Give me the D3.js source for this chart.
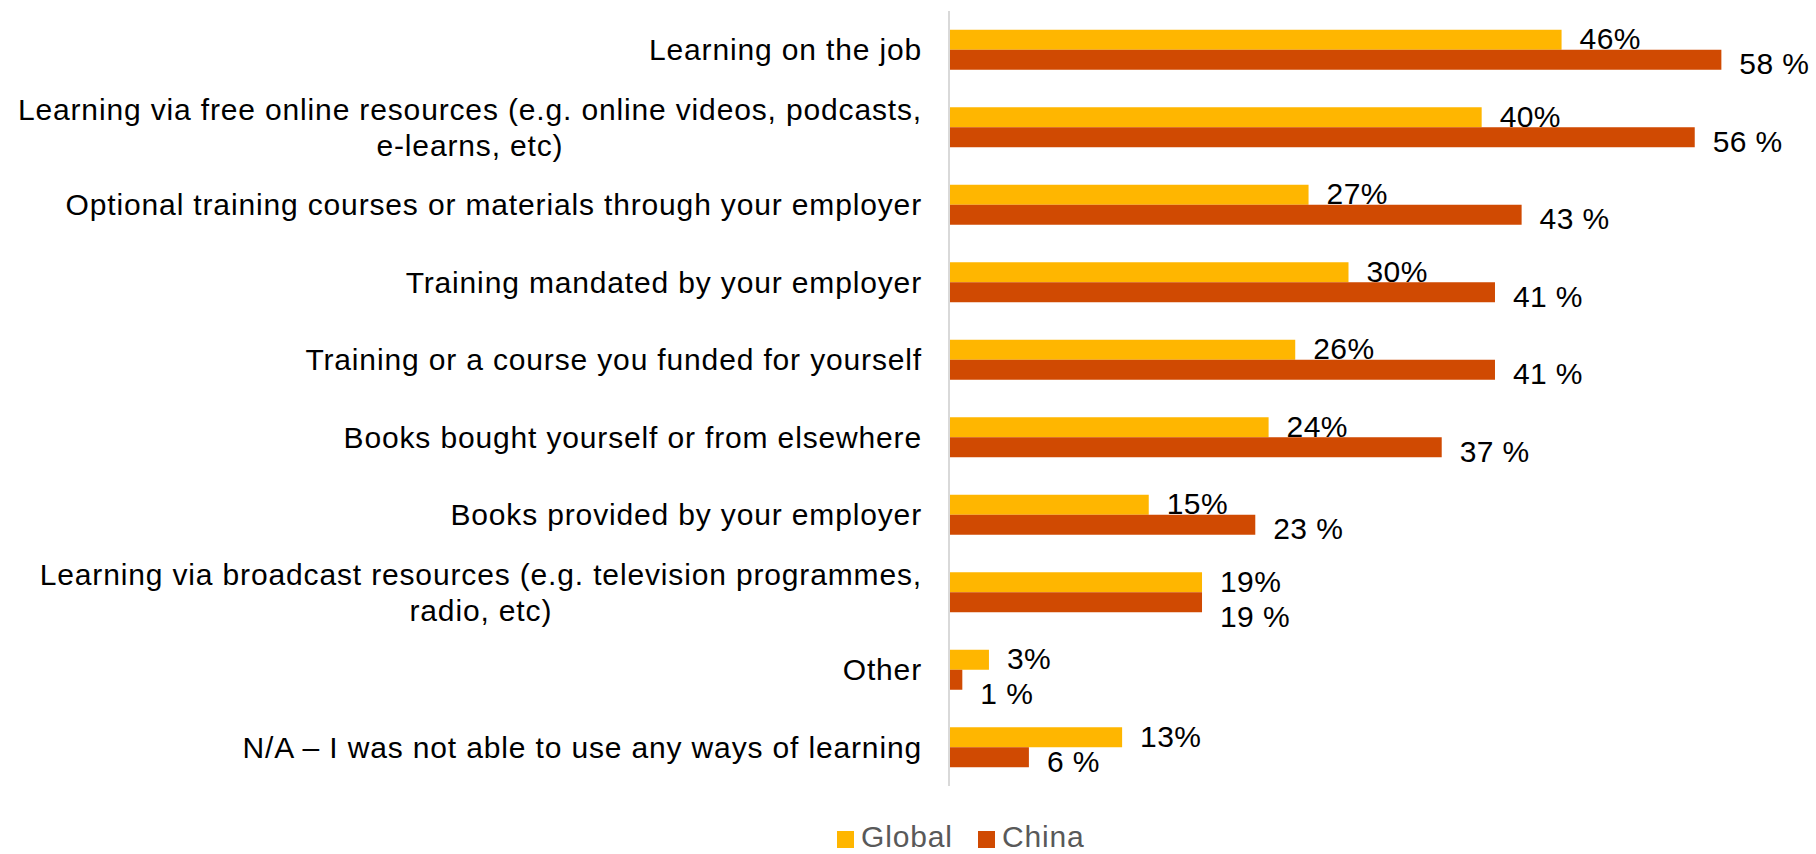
<!DOCTYPE html>
<html>
<head>
<meta charset="utf-8">
<script src="https://cdn.jsdelivr.net/npm/d3@7"></script>
<style>
  html, body { margin: 0; padding: 0; background: #ffffff; }
  svg { display: block; }
  text { font-family: "Liberation Sans", Arial, sans-serif; }
</style>
</head>
<body>
<svg id="chart" width="1816" height="854"></svg>
<script>
// Ways of learning used, share of respondents
const categories = [
  ["Learning on the job"],
  ["Learning via free online resources (e.g. online videos, podcasts,", "e-learns, etc)"],
  ["Optional training courses or materials through your employer"],
  ["Training mandated by your employer"],
  ["Training or a course you funded for yourself"],
  ["Books bought yourself or from elsewhere"],
  ["Books provided by your employer"],
  ["Learning via broadcast resources (e.g. television programmes,", "radio, etc)"],
  ["Other"],
  ["N/A \u2013 I was not able to use any ways of learning"]
];
const seriesNames = ["Global", "China"];
const globalValues = [46, 40, 27, 30, 26, 24, 15, 19, 3, 13];
const chinaValues  = [58, 56, 43, 41, 41, 37, 23, 19, 1, 6];
const globalLabels = ["46%", "40%", "27%", "30%", "26%", "24%", "15%", "19%", "3%", "13%"];
const chinaLabels  = ["58 %", "56 %", "43 %", "41 %", "41 %", "37 %", "23 %", "19 %", "1 %", "6 %"];

const colors = { Global: "#FFB600", China: "#D04A02" };
const fontSize = 30;
const tracking = 0.85;

const svg = d3.select("#chart");
const axisX = 949, plotTop = 11, plotBottom = 786;

const keys = categories.map((c, i) => i);
const y = d3.scaleBand().domain(keys).range([plotTop, plotBottom])
  .paddingInner(0.484).paddingOuter(0.242);
const ySeries = d3.scaleBand().domain(seriesNames).range([0, y.bandwidth()]);
const x = d3.scaleLinear().domain([0, 60]).range([axisX, axisX + 799]);

const rows = keys.map(i => ({
  i,
  lines: categories[i],
  Global: globalValues[i],
  China: chinaValues[i],
  GlobalLabel: globalLabels[i],
  ChinaLabel: chinaLabels[i]
}));

// Bars
const g = svg.append("g");
const groups = g.selectAll("g.cat").data(rows).join("g")
  .attr("class", "cat")
  .attr("transform", d => `translate(0,${y(d.i)})`);

groups.selectAll("rect").data(d => seriesNames.map(s => ({ s, v: d[s] }))).join("rect")
  .attr("x", x(0))
  .attr("y", d => ySeries(d.s))
  .attr("width", d => x(d.v) - x(0))
  .attr("height", ySeries.bandwidth())
  .attr("fill", d => colors[d.s]);

// Category axis line
svg.append("line")
  .attr("x1", axisX).attr("x2", axisX)
  .attr("y1", plotTop).attr("y2", plotBottom)
  .attr("stroke", "#D9D9D9").attr("stroke-width", 2);

// Category labels: right-aligned block, wrapped lines centred within the block
const labelRight = axisX - 27;
const lineH = 36;
const catLabels = svg.append("g").attr("font-size", fontSize).attr("fill", "#000")
  .attr("letter-spacing", tracking);
rows.forEach(d => {
  const cy = y(d.i) + y.bandwidth() / 2;
  const tg = catLabels.append("g");
  const texts = d.lines.map((ln, k) => tg.append("text")
    .attr("y", cy + (k - (d.lines.length - 1) / 2) * lineH)
    .attr("dominant-baseline", "central")
    .text(ln));
  const widths = texts.map(t => t.node().getComputedTextLength());
  const maxW = d3.max(widths);
  const centre = labelRight - maxW / 2;
  texts.forEach(t => t.attr("x", centre).attr("text-anchor", "middle"));
});

// Value labels, placed past the bar end; stacked apart when they collide
const valueLabels = svg.append("g").attr("font-size", fontSize).attr("fill", "#000")
  .attr("letter-spacing", 0.4);
rows.forEach(d => {
  const gy = y(d.i) + ySeries("Global") + ySeries.bandwidth() / 2 - 1;
  let cy = y(d.i) + ySeries("China") + ySeries.bandwidth() / 2 + 4;
  const gx = x(d.Global) + 18, cx = x(d.China) + 18;
  const tG = valueLabels.append("text").attr("x", gx).attr("y", gy)
    .attr("dominant-baseline", "central").text(d.GlobalLabel);
  const tC = valueLabels.append("text").attr("x", cx)
    .attr("dominant-baseline", "central").text(d.ChinaLabel);
  const wG = tG.node().getComputedTextLength();
  const wC = tC.node().getComputedTextLength();
  const overlap = gx < cx + wC && cx < gx + wG;
  if (overlap && cy - gy < 35) cy = gy + 35;
  tC.attr("y", cy);
});

// Legend
const legend = svg.append("g").attr("font-size", fontSize).attr("fill", "#595959")
  .attr("letter-spacing", tracking);
const legendItems = [
  { s: "Global", x: 837 },
  { s: "China", x: 978 }
];
legendItems.forEach(it => {
  legend.append("rect").attr("x", it.x).attr("y", 831).attr("width", 17).attr("height", 17)
    .attr("fill", colors[it.s]);
  legend.append("text").attr("x", it.x + 24).attr("y", 847).text(it.s);
});
</script>
</body>
</html>
